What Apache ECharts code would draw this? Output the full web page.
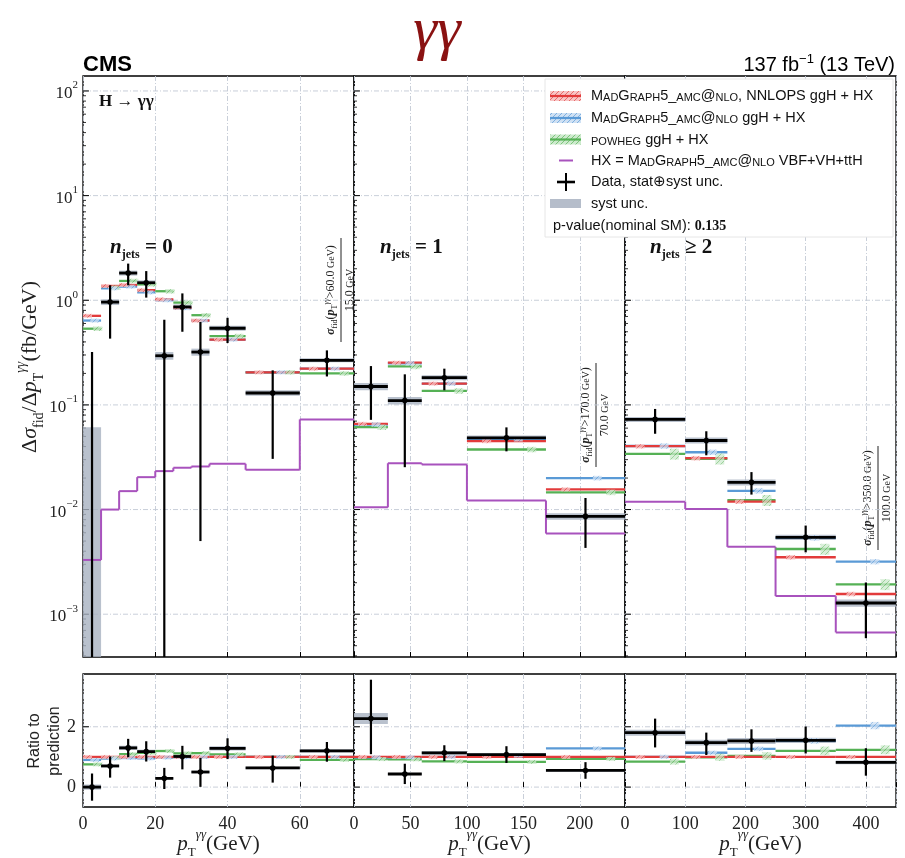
<!DOCTYPE html>
<html>
<head>
<meta charset="utf-8">
<title>H→γγ fiducial cross section vs pT(γγ) in jet multiplicity bins</title>
<script src="https://cdn.jsdelivr.net/npm/echarts@6.0.0/dist/echarts.min.js"></script>
<style>
  html, body { margin: 0; padding: 0; background: #fff; }
  #chart { width: 905px; height: 858px; }
</style>
</head>
<body>
<div id="chart"></div>
<script>
// ---------------- values ----------------
// bin edges in pT(γγ) [GeV] for each jet multiplicity
const edgesJ0 = [0, 5, 10, 15, 20, 25, 30, 35, 45, 60, 75];
const edgesJ1 = [0, 30, 60, 100, 170, 240];
const edgesJ2 = [0, 100, 170, 250, 350, 450];

// measured dσ/dpT [fb/GeV], total (stat ⊕ syst) uncertainty and syst-only uncertainty
const dataJ0  = [0, 0.96, 1.82, 1.47, 0.295, 0.863, 0.32, 0.54, 0.13, 0.267];
const errUpJ0 = [0.32, 0.43, 0.42, 0.43, 0.355, 0.30, 0.30, 0.14, 0.084, 0.065];
const errDnJ0 = [0.32, 0.53, 0.43, 0.41, 0.36, 0.363, 0.315, 0.15, 0.0995, 0.08];
const systJ0  = [0.061, 0.06, 0.1, 0.08, 0.025, 0.05, 0.025, 0.03, 0.008, 0.012];

const dataJ1  = [0.150, 0.110, 0.182, 0.0485, 0.0086];
const errUpJ1 = [0.085, 0.086, 0.040, 0.0125, 0.0043];
const errDnJ1 = [0.078, 0.0846, 0.044, 0.0125, 0.0043];
const systJ1  = [0.012, 0.009, 0.01, 0.0025, 0.0006];

const dataJ2  = [0.0727, 0.0457, 0.0182, 0.00543, 0.00128];
const errUpJ2 = [0.0188, 0.0103, 0.0046, 0.0016, 0.00073];
const errDnJ2 = [0.0197, 0.0127, 0.0043, 0.00153, 0.00069];
const systJ2  = [0.004, 0.003, 0.0012, 0.0003, 0.0001];

// predictions (ggH + HX) [fb/GeV]
const nnlopsJ0 = [0.71, 1.37, 1.40, 1.25, 1.02, 0.85, 0.64, 0.42, 0.205, 0.222];
const mg5J0    = [0.64, 1.30, 1.35, 1.19, 1.00, 0.84, 0.64, 0.42, 0.205, 0.222];
const powhegJ0 = [0.535, 1.32, 1.53, 1.42, 1.22, 0.95, 0.72, 0.455, 0.205, 0.200];
const hxJ0     = [0.0033, 0.0100, 0.0150, 0.0204, 0.0233, 0.0251, 0.0258, 0.0274, 0.0240, 0.0727];

const nnlopsJ1 = [0.066, 0.253, 0.160, 0.045, 0.0156];
const mg5J1    = [0.065, 0.250, 0.160, 0.047, 0.0200];
const powhegJ1 = [0.0613, 0.233, 0.136, 0.0375, 0.0146];
const hxJ1     = [0.0105, 0.0277, 0.0270, 0.0122, 0.0059];

const nnlopsJ2 = [0.0403, 0.0310, 0.0119, 0.00350, 0.00156];
const mg5J2    = [0.0405, 0.0353, 0.0151, 0.00536, 0.00318];
const powhegJ2 = [0.0341, 0.0306, 0.0123, 0.00420, 0.00193];
const hxJ2     = [0.0119, 0.0101, 0.0044, 0.00149, 0.00067];

// relative theory uncertainty per jet bin
const theoUncNnlops = [0.04, 0.04, 0.05];
const theoUncMg5    = [0.04, 0.05, 0.06];
const theoUncPowheg = [0.05, 0.06, 0.12];

// tick labels
const xTicksJ0 = [0, 20, 40, 60];
const xTicksJ1 = [0, 50, 100, 150, 200];
const xTicksJ2 = [0, 100, 200, 300, 400];
const yDecades = [-3, -2, -1, 0, 1, 2];
const ratioTicks = [0, 2];

const jetLabels = ['0', '1', '2'];
const jetOps = ['=', '=', '≥'];
const lastBinLow = ['60.0', '170.0', '350.0'];
const lastBinWidth = ['15.0', '70.0', '100.0'];

// ---------------- layout ----------------
const Y_MIN = 3.9e-4, Y_MAX = 139;
const R_MIN = -0.66, R_MAX = 3.75;
const PANEL_LEFT = [83, 354, 625];
const PANEL_W = 271;
const TOP_Y = 76, TOP_H = 581;
const RAT_Y = 674, RAT_H = 133;

const COLORS = { nnlops: '#e23b3b', mg5: '#5a9ad6', powheg: '#55b155', hx: '#a852bd', syst: '#a8b2c1' };
const SERIF = '"Liberation Serif", "DejaVu Serif", serif';
const SANS = '"Liberation Sans", Arial, sans-serif';

function hatch(line, bg) {
  const c = document.createElement('canvas');
  c.width = 5; c.height = 5;
  const g = c.getContext('2d');
  g.fillStyle = bg; g.fillRect(0, 0, 5, 5);
  g.strokeStyle = line; g.lineWidth = 1;
  g.beginPath();
  g.moveTo(0, 5); g.lineTo(5, 0);
  g.moveTo(-2.5, 2.5); g.lineTo(2.5, -2.5);
  g.moveTo(2.5, 7.5); g.lineTo(7.5, 2.5);
  g.stroke();
  return { image: c, repeat: 'repeat' };
}
const HATCH = {
  nnlops: hatch('#e86a6a', '#f8c4c4'),
  mg5: hatch('#7fb0e0', '#cfe1f4'),
  powheg: hatch('#7cc47c', '#cdeacd')
};

const panels = [
  { edges: edgesJ0, data: dataJ0, errUp: errUpJ0, errDn: errDnJ0, syst: systJ0,
    nnlops: nnlopsJ0, mg5: mg5J0, powheg: powhegJ0, hx: hxJ0, xTicks: xTicksJ0 },
  { edges: edgesJ1, data: dataJ1, errUp: errUpJ1, errDn: errDnJ1, syst: systJ1,
    nnlops: nnlopsJ1, mg5: mg5J1, powheg: powhegJ1, hx: hxJ1, xTicks: xTicksJ1 },
  { edges: edgesJ2, data: dataJ2, errUp: errUpJ2, errDn: errDnJ2, syst: systJ2,
    nnlops: nnlopsJ2, mg5: mg5J2, powheg: powhegJ2, hx: hxJ2, xTicks: xTicksJ2 }
];
panels.forEach((P, p) => {
  P.unc = { nnlops: theoUncNnlops[p], mg5: theoUncMg5[p], powheg: theoUncPowheg[p] };
  P.xMax = P.edges[P.edges.length - 1];
  P.xStep = P.xTicks[1] - P.xTicks[0];
});

const clampY = v => Math.min(Math.max(v, Y_MIN), Y_MAX);
const clampR = v => Math.min(Math.max(v, R_MIN), R_MAX);

function seg(x1, y1, x2, y2, color, w, dash) {
  const st = { stroke: color, lineWidth: w };
  if (dash) st.lineDash = dash;
  return { type: 'line', shape: { x1, y1, x2, y2 }, style: st };
}

const GRID_STYLE = { color: '#c3c9d5', width: 0.9, dash: [5, 2, 1, 2] };

// ---------- axis decorations (log / ratio y axes) ----------
function supText(e) {
  return '{b|10}{s|' + (e < 0 ? '−' + (-e) : String(e)) + '}';
}
function decorTop(p) {
  return function (params, api) {
    const ch = [];
    const x0 = api.coord([0, 1])[0];
    const x1 = api.coord([panels[p].xMax, 1])[0];
    for (let e = -4; e <= 2; e++) {
      const major = Math.pow(10, e);
      if (major >= Y_MIN && major <= Y_MAX) {
        const y = api.coord([0, major])[1];
        ch.push(seg(x0, y, x1, y, GRID_STYLE.color, GRID_STYLE.width, GRID_STYLE.dash));
        ch.push(seg(x0, y, x0 + 6, y, '#000', 1));
      }
      for (let m = 2; m <= 9; m++) {
        const v = m * major;
        if (v >= Y_MIN && v <= Y_MAX) {
          const y = api.coord([0, v])[1];
          ch.push(seg(x0, y, x0 + 3, y, '#000', 0.8));
        }
      }
    }
    if (p === 0) {
      yDecades.forEach(e => {
        const y = api.coord([0, Math.pow(10, e)])[1];
        ch.push({
          type: 'text', x: x0 - 5, y: y,
          style: {
            text: supText(e), align: 'right', verticalAlign: 'middle', fill: '#222',
            rich: {
              b: { fontFamily: SERIF, fontSize: 17, lineHeight: 22, verticalAlign: 'bottom', fill: '#222' },
              s: { fontFamily: SERIF, fontSize: 11, lineHeight: 11, verticalAlign: 'top', fill: '#222' }
            }
          }
        });
      });
    }
    return { type: 'group', children: ch };
  };
}
function decorRatio(p) {
  return function (params, api) {
    const ch = [];
    const x0 = api.coord([0, 0])[0];
    const x1 = api.coord([panels[p].xMax, 0])[0];
    ratioTicks.forEach(t => {
      const y = api.coord([0, t])[1];
      ch.push(seg(x0, y, x1, y, GRID_STYLE.color, GRID_STYLE.width, GRID_STYLE.dash));
      ch.push(seg(x0, y, x0 + 6, y, '#000', 1));
      if (p === 0) {
        ch.push({
          type: 'text', x: x0 - 7, y: y,
          style: { text: String(t), align: 'right', verticalAlign: 'middle', fill: '#222',
                   fontFamily: SERIF, fontSize: 18 }
        });
      }
    });
    return { type: 'group', children: ch };
  };
}

// ---------- per-bin marks ----------
const MODEL_ORDER = [['powheg', 0.82], ['mg5', 0.65], ['nnlops', 0.25]];

function binRenderer(p, ratio) {
  const P = panels[p];
  return function (params, api) {
    const i = params.dataIndex;
    const xa = P.edges[i], xb = P.edges[i + 1], xc = (xa + xb) / 2;
    const norm = ratio ? P.nnlops[i] : 1;
    const clamp = ratio ? clampR : clampY;
    const X = x => api.coord([x, ratio ? 0 : 1])[0];
    const Y = v => api.coord([xa, clamp(v / norm)])[1];
    const px0 = X(xa), px1 = X(xb), pxc = X(xc);
    const ch = [];

    // systematic band
    const d = P.data[i], s = P.syst[i];
    const ys1 = Y(d + s), ys2 = Y(d - s);
    ch.push({ type: 'rect', shape: { x: px0, y: ys1, width: px1 - px0, height: ys2 - ys1 },
              style: { fill: COLORS.syst, opacity: 0.8 } });

    // HX contribution as a step line (main panels only)
    if (!ratio) {
      const yh = Y(P.hx[i]);
      ch.push(seg(px0, yh, px1, yh, COLORS.hx, 2));
      if (i > 0) ch.push(seg(px0, Y(P.hx[i - 1]), px0, yh, COLORS.hx, 2));
    }

    // predictions with their theory-uncertainty boxes
    MODEL_ORDER.forEach(([k]) => {
      const y = Y(P[k][i]);
      ch.push(seg(px0, y, px1, y, COLORS[k], 2.3));
    });
    MODEL_ORDER.forEach(([k, f]) => {
      const v = P[k][i], u = P.unc[k];
      const bx = X(xa + f * (xb - xa));
      const yt = Y(v * (1 + u)), yb = Y(v * (1 - u));
      const h = Math.max(yb - yt, 4);
      const yc = (yt + yb) / 2;
      ch.push({ type: 'rect', shape: { x: bx - 4.5, y: yc - h / 2, width: 9, height: h },
                style: { fill: HATCH[k], opacity: 0.75 } });
    });

    // measurement
    const yTop = Y(d + P.errUp[i]), yBot = Y(d - P.errDn[i]);
    ch.push(seg(pxc, yTop, pxc, yBot, '#000', 2.2));
    if (ratio || d > 0) {
      const yd = Y(d);
      ch.push(seg(px0, yd, px1, yd, '#000', 2.8));
      ch.push({ type: 'circle', shape: { cx: pxc, cy: yd, r: 2.8 }, style: { fill: '#000' } });
    }
    return { type: 'group', children: ch };
  };
}

// ---------- option ----------
const grids = [], xAxes = [], yAxes = [], series = [];
PANEL_LEFT.forEach(l => grids.push({ left: l, top: TOP_Y, width: PANEL_W, height: TOP_H }));
PANEL_LEFT.forEach(l => grids.push({ left: l, top: RAT_Y, width: PANEL_W, height: RAT_H }));
grids.forEach(g => Object.assign(g, { show: true, borderColor: '#000', borderWidth: 1.3,
                                      backgroundColor: 'transparent', containLabel: false,
                                      outerBoundsMode: 'none' }));

panels.forEach((P, p) => {
  const xBase = {
    type: 'value', min: 0, max: P.xMax, interval: P.xStep,
    axisLine: { show: false },
    axisTick: { show: true, inside: true, length: 5, lineStyle: { color: '#000', width: 1 } },
    splitLine: { show: true, lineStyle: { color: GRID_STYLE.color, width: GRID_STYLE.width, type: GRID_STYLE.dash } }
  };
  xAxes[p] = Object.assign({ gridIndex: p, axisLabel: { show: false } }, xBase);
  xAxes[p + 3] = Object.assign({
    gridIndex: p + 3,
    axisLabel: {
      show: true, margin: 8, color: '#222', fontFamily: SERIF, fontSize: 18,
      formatter: v => (P.xTicks.indexOf(v) >= 0 ? String(v) : '')
    }
  }, xBase);
  const yHidden = { axisLine: { show: false }, axisTick: { show: false },
                    axisLabel: { show: false }, splitLine: { show: false } };
  yAxes[p] = Object.assign({ gridIndex: p, type: 'log', logBase: 10, min: Y_MIN, max: Y_MAX }, yHidden);
  yAxes[p + 3] = Object.assign({ gridIndex: p + 3, type: 'value', min: R_MIN, max: R_MAX }, yHidden);

  const binItemsTop = P.data.map((d, i) => [(P.edges[i] + P.edges[i + 1]) / 2, clampY(P.nnlops[i])]);
  const binItemsRat = P.data.map((d, i) => [(P.edges[i] + P.edges[i + 1]) / 2, 1]);

  series.push({ type: 'custom', name: 'axisTop' + p, xAxisIndex: p, yAxisIndex: p, z: 1, silent: true,
                clip: false, data: [[1, 1]], renderItem: decorTop(p) });
  series.push({ type: 'custom', name: 'binsTop' + p, xAxisIndex: p, yAxisIndex: p, z: 3, silent: true,
                clip: false, data: binItemsTop, renderItem: binRenderer(p, false) });
  series.push({ type: 'custom', name: 'axisRatio' + p, xAxisIndex: p + 3, yAxisIndex: p + 3, z: 1, silent: true,
                clip: false, data: [[1, 1]], renderItem: decorRatio(p) });
  series.push({ type: 'custom', name: 'binsRatio' + p, xAxisIndex: p + 3, yAxisIndex: p + 3, z: 3, silent: true,
                clip: false, data: binItemsRat, renderItem: binRenderer(p, true) });
});

// ---------- text and legend ----------
const mathRich = (size) => ({
  a:  { fontFamily: SERIF, fontSize: size, lineHeight: size + 10, verticalAlign: 'middle', fill: '#222' },
  i:  { fontFamily: SERIF, fontStyle: 'italic', fontSize: size, lineHeight: size + 10, verticalAlign: 'middle', fill: '#222' },
  sb: { fontFamily: SERIF, fontSize: Math.round(size * 0.62), lineHeight: Math.round(size * 0.62), verticalAlign: 'bottom', fill: '#222' },
  sp: { fontFamily: SERIF, fontStyle: 'italic', fontSize: Math.round(size * 0.62), lineHeight: Math.round(size * 0.62), verticalAlign: 'top', fill: '#222' }
});
const capsRich = {
  n: { fontFamily: SANS, fontSize: 14.5, lineHeight: 15, verticalAlign: 'bottom', fill: '#111' },
  s: { fontFamily: SANS, fontSize: 11, lineHeight: 11, verticalAlign: 'bottom', fill: '#111' },
  m: { fontFamily: SERIF, fontWeight: 'bold', fontSize: 14, lineHeight: 15, verticalAlign: 'bottom', fill: '#111' }
};
const MG = '{n|M}{s|AD}{n|G}{s|RAPH}{n|5_}{s|AMC}{n|@}{s|NLO}';
const legendRows = [
  { kind: 'nnlops', text: MG + '{n|, NNLOPS ggH + HX}', y: 96 },
  { kind: 'mg5', text: MG + '{n| ggH + HX}', y: 118 },
  { kind: 'powheg', text: '{s|POWHEG}{n| ggH + HX}', y: 139.5 },
  { kind: 'hx', text: '{n|HX = }' + MG + '{n| VBF+VH+ttH}', y: 160.5 },
  { kind: 'data', text: '{n|Data, stat⊕syst unc.}', y: 182 },
  { kind: 'syst', text: '{n|syst unc.}', y: 203.5 }
];

const graphics = [];
// title and header
graphics.push({ type: 'text', x: 437, y: 32, z: 100,
  style: { text: 'γγ', fill: '#8a1212', fontFamily: SERIF, fontStyle: 'italic', fontSize: 60,
           align: 'center', verticalAlign: 'middle' } });
graphics.push({ type: 'text', x: 83, y: 65, z: 100,
  style: { text: 'CMS', fill: '#000', fontFamily: SANS, fontWeight: 'bold', fontSize: 22,
           align: 'left', verticalAlign: 'middle' } });
graphics.push({ type: 'text', x: 895, y: 65, z: 100,
  style: { text: '{n|137 fb}{sp|−1}{n| (13 TeV)}', align: 'right', verticalAlign: 'middle',
           rich: { n: { fontFamily: SANS, fontSize: 20, lineHeight: 24, verticalAlign: 'middle', fill: '#000' },
                   sp: { fontFamily: SANS, fontSize: 13, lineHeight: 13, verticalAlign: 'top', fill: '#000' } } } });
graphics.push({ type: 'text', x: 99, y: 102, z: 100,
  style: { text: 'H → γγ', fill: '#111', fontFamily: SERIF, fontWeight: 'bold', fontSize: 17,
           align: 'left', verticalAlign: 'middle' } });

// jet multiplicity labels
const jetLabelX = [110, 380, 650];
jetLabels.forEach((n, p) => {
  graphics.push({ type: 'text', x: jetLabelX[p], y: 248, z: 100,
    style: { text: '{i|n}{sb|jets}{a| ' + jetOps[p] + ' ' + n + '}', align: 'left', verticalAlign: 'middle',
             rich: {
               i: { fontFamily: SERIF, fontStyle: 'italic', fontWeight: 'bold', fontSize: 21, lineHeight: 26, verticalAlign: 'middle', fill: '#111' },
               sb: { fontFamily: SERIF, fontWeight: 'bold', fontSize: 12, lineHeight: 12, verticalAlign: 'bottom', fill: '#111' },
               a: { fontFamily: SERIF, fontWeight: 'bold', fontSize: 21, lineHeight: 26, verticalAlign: 'middle', fill: '#111' }
             } } });
});

// overflow-bin normalisation notes (rotated fractions)
const noteCenter = [[339, 290], [594, 415], [876, 498]];
lastBinLow.forEach((lo, p) => {
  const [cx, cy] = noteCenter[p];
  const r = {
    a:  { fontFamily: SERIF, fontSize: 12, lineHeight: 16, verticalAlign: 'middle', fill: '#222' },
    i:  { fontFamily: SERIF, fontStyle: 'italic', fontWeight: 'bold', fontSize: 12, lineHeight: 16, verticalAlign: 'middle', fill: '#222' },
    sb: { fontFamily: SERIF, fontSize: 8, lineHeight: 8, verticalAlign: 'bottom', fill: '#222' },
    sp: { fontFamily: SERIF, fontStyle: 'italic', fontSize: 8, lineHeight: 8, verticalAlign: 'top', fill: '#222' },
    g:  { fontFamily: SERIF, fontSize: 10, lineHeight: 16, verticalAlign: 'middle', fill: '#222' }
  };
  graphics.push({ type: 'group', x: cx, y: cy, rotation: Math.PI / 2, z: 100, children: [
    { type: 'text', x: 0, y: -8,
      style: { text: '{i|σ}{sb|fid}{a|(}{i|p}{sb|T}{sp|γγ}{a|>' + lo + '}{g| GeV}{a|)}', align: 'center', verticalAlign: 'middle', rich: r } },
    { type: 'line', shape: { x1: -52, y1: 2, x2: 52, y2: 2 }, style: { stroke: '#222', lineWidth: 1 } },
    { type: 'text', x: 0, y: 11,
      style: { text: '{a|' + lastBinWidth[p] + '}{g| GeV}', align: 'center', verticalAlign: 'middle', rich: r } }
  ] });
});

// axis titles
graphics.push({ type: 'text', x: 30, y: 367, rotation: Math.PI / 2, z: 100,
  style: { text: '{a|Δ}{i|σ}{sb|fid}{a|/Δ}{i|p}{sb|T}{sp|γγ}{a|(fb/GeV)}', align: 'center', verticalAlign: 'middle',
           rich: mathRich(22) } });
graphics.push({ type: 'text', x: 45, y: 741, rotation: Math.PI / 2, z: 100,
  style: { text: 'Ratio to\nprediction', align: 'center', verticalAlign: 'middle', fill: '#222',
           fontFamily: SANS, fontSize: 16, lineHeight: 20 } });
PANEL_LEFT.forEach(l => {
  graphics.push({ type: 'text', x: l + PANEL_W / 2, y: 844, z: 100,
    style: { text: '{i|p}{sb|T}{sp|γγ}{a|(GeV)}', align: 'center', verticalAlign: 'middle', rich: mathRich(21) } });
});

// legend
graphics.push({ type: 'rect', shape: { x: 545, y: 79, width: 348, height: 158 }, z: 90,
  style: { fill: '#fff', stroke: '#e6e6e6', lineWidth: 1 } });
legendRows.forEach(row => {
  const y = row.y;
  if (row.kind === 'nnlops' || row.kind === 'mg5' || row.kind === 'powheg') {
    graphics.push({ type: 'rect', shape: { x: 550, y: y - 5, width: 31, height: 10 }, z: 91,
      style: { fill: HATCH[row.kind] } });
    graphics.push({ type: 'line', shape: { x1: 550, y1: y, x2: 581, y2: y }, z: 92,
      style: { stroke: COLORS[row.kind], lineWidth: 2.2 } });
  } else if (row.kind === 'hx') {
    graphics.push({ type: 'line', shape: { x1: 559, y1: y, x2: 573, y2: y }, z: 92,
      style: { stroke: COLORS.hx, lineWidth: 2 } });
  } else if (row.kind === 'data') {
    graphics.push({ type: 'line', shape: { x1: 557, y1: y, x2: 575, y2: y }, z: 92,
      style: { stroke: '#000', lineWidth: 2.6 } });
    graphics.push({ type: 'line', shape: { x1: 566, y1: y - 9, x2: 566, y2: y + 9 }, z: 92,
      style: { stroke: '#000', lineWidth: 2 } });
  } else {
    graphics.push({ type: 'rect', shape: { x: 550, y: y - 4.5, width: 31, height: 9 }, z: 91,
      style: { fill: COLORS.syst, opacity: 0.85 } });
  }
  graphics.push({ type: 'text', x: 591, y: y, z: 92,
    style: { text: row.text, align: 'left', verticalAlign: 'middle', rich: capsRich } });
});
graphics.push({ type: 'text', x: 553, y: 226, z: 92,
  style: { text: '{n|p-value(nominal SM): }{m|0.135}', align: 'left', verticalAlign: 'middle', rich: capsRich } });

const chart = echarts.init(document.getElementById('chart'), null, { renderer: 'canvas' });
chart.setOption({
  animation: false,
  backgroundColor: '#fff',
  grid: grids,
  xAxis: xAxes,
  yAxis: yAxes,
  series: series,
  graphic: graphics
});
</script>
</body>
</html>
